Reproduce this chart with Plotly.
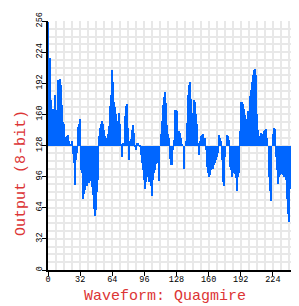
import plotly.graph_objects as go

# Sample values (8-bit output, baseline 128), index = sample number
samples = [
    255, 218, 218, 175, 155, 166, 163, 180, 162, 165,
    195, 194, 196, 190, 170, 152, 150, 137, 136, 138,
    139, 133, 130, 128, 133, 119, 110, 87, 113, 120,
    147, 150, 155, 103, 100, 73, 78, 82, 88, 86,
    90, 89, 95, 92, 85, 77, 63, 56, 62, 80,
    93, 138, 146, 150, 153, 150, 144, 138, 136, 135,
    140, 148, 169, 180, 206, 193, 173, 168, 160, 153,
    151, 161, 150, 129, 116, 131, 129, 158, 169, 171,
    146, 113, 133, 135, 144, 149, 141, 126, 123, 131,
    131, 128, 127, 118, 110, 103, 93, 83, 90, 96,
    100, 90, 105, 86, 76, 93, 100, 103, 109, 110,
    116, 91, 128, 140, 153, 170, 178, 183, 172, 149,
    140, 136, 114, 108, 108, 123, 134, 164, 165, 163,
    143, 141, 136, 130, 128, 104, 128, 133, 151, 180,
    190, 193, 176, 160, 161, 175, 173, 160, 150, 131,
    118, 133, 138, 139, 140, 136, 136, 123, 106, 100,
    96, 98, 103, 111, 104, 108, 110, 113, 116, 120,
    139, 136, 133, 113, 90, 86, 116, 128, 139, 138,
    134, 106, 103, 96, 100, 103, 99, 95, 81, 96,
    100, 143, 173, 173, 171, 166, 159, 153, 155, 163,
    161, 179, 185, 193, 200, 206, 207, 200, 160, 144,
    136, 138, 141, 138, 140, 143, 144, 145, 136, 128,
    96, 81, 71, 128, 140, 146, 145, 116, 103, 88,
    96, 98, 99, 103, 98, 96, 98, 93, 73, 58,
    49, 83, 86, 99, 111, 116, 113, 106, 133, 135,
]
baseline = 128
x_ticks = [0, 32, 64, 96, 128, 160, 192, 224, 256]
y_ticks = [0, 32, 64, 96, 128, 160, 192, 224, 256]
x_title = "Waveform: Quagmire"
y_title = "Output (8-bit)"

xs = list(range(len(samples)))
heights = [v - baseline for v in samples]

RED = "#dc3535"
MONO = "Liberation Mono, DejaVu Sans Mono, monospace"
GRID = "#e8e8e8"

fig = go.Figure(go.Bar(
    x=xs, y=heights, base=baseline, width=1.02,
    marker=dict(color="#0066ff", line=dict(width=0)),
    hoverinfo="skip",
))

# Figure is placed at (8, 8) by the page margin; plot box is larger than the window
W, H = 320, 310
L, T = 40, 4
PW, PH = 257.5, 258
R = W - L - PW
B = H - T - PH

def px_x(x):
    return (x - L) / PW

def px_y(y):
    return (T + PH - y) / PH

fig.update_layout(
    width=W, height=H,
    margin=dict(l=L, r=R, t=T, b=B, pad=0),
    paper_bgcolor="white", plot_bgcolor="white",
    bargap=0, showlegend=False,
    font=dict(family=MONO, color="black", size=8.5),
    xaxis=dict(
        range=[0, 256], tickmode="array", tickvals=x_ticks,
        ticks="outside", ticklen=4, tickcolor="black", tickwidth=1,
        showline=True, linecolor="black", linewidth=1.5,
        showgrid=True, gridcolor=GRID, gridwidth=1.5,
        minor=dict(dtick=8, tick0=0, showgrid=True, gridcolor=GRID, gridwidth=1.5),
        tickfont=dict(family=MONO, size=8.5, color="black"),
        ticklabeloverflow="allow", ticklabelstandoff=-4,
        zeroline=False, fixedrange=True,
    ),
    yaxis=dict(
        range=[0, 256], tickmode="array", tickvals=y_ticks,
        ticks="outside", ticklen=4, tickcolor="black", tickwidth=1,
        showline=True, linecolor="black", linewidth=1.5,
        showgrid=True, gridcolor=GRID, gridwidth=1.5,
        minor=dict(dtick=8, tick0=0, showgrid=True, gridcolor=GRID, gridwidth=1.5),
        tickfont=dict(family=MONO, size=8.5, color="black"),
        tickangle=-90,
        ticklabeloverflow="allow", ticklabelstandoff=-3,
        zeroline=False, fixedrange=True,
    ),
    annotations=[
        dict(text=x_title, xref="paper", yref="paper",
             x=px_x(157.5), y=px_y(289),
             xanchor="center", yanchor="middle", showarrow=False,
             font=dict(family=MONO, size=15, color=RED)),
        dict(text=y_title, xref="paper", yref="paper",
             x=px_x(13), y=px_y(161.5),
             xanchor="center", yanchor="middle", showarrow=False, textangle=-90,
             font=dict(family=MONO, size=15, color=RED)),
    ],
)

fig.write_html("out.html", config={"displayModeBar": False})
